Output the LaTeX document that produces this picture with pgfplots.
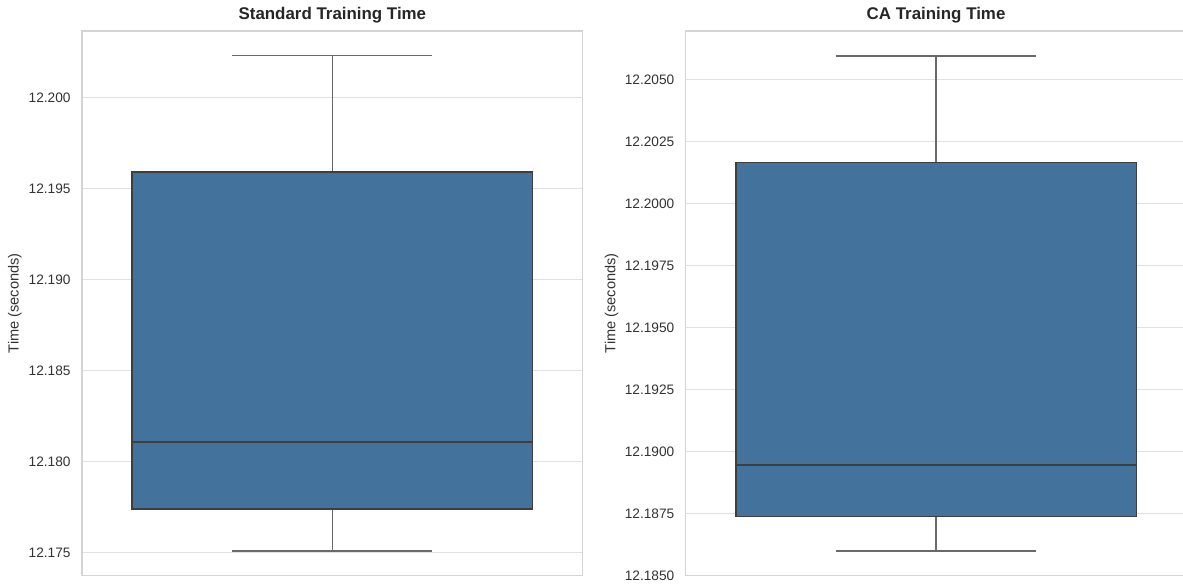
\documentclass[border=0pt]{standalone}
\usepackage{pgfplots}
\pgfplotsset{compat=1.18}
\usepgfplotslibrary{statistics}
\usepackage{fontspec}
\setmainfont{Liberation Sans}

\definecolor{boxblue}{RGB}{67,114,157}
\definecolor{edgegray}{RGB}{62,62,62}
\definecolor{whiskgray}{RGB}{105,105,105}
\definecolor{gridgray}{RGB}{225,225,225}
\definecolor{framegray}{RGB}{212,212,212}
\definecolor{ticktext}{RGB}{51,51,51}
\definecolor{titletext}{RGB}{38,38,38}

\pgfplotsset{
  panel/.style={
    scale only axis, width=250.35pt, height=272.25pt,
    anchor=south west,
    xmin=-0.5, xmax=0.5, xtick=\empty,
    ymajorgrids, grid style={gridgray, line width=0.6pt},
    axis line style={framegray, line width=0.6pt},
    major tick length=0pt,
    tick label style={font=\fontsize{6.85}{8}\selectfont, color=ticktext},
    yticklabel style={inner sep=0pt, xshift=-5.5pt},
    label style={font=\fontsize{7.3}{8.5}\selectfont, color=ticktext},
    every axis title shift=0pt,
    title style={font=\bfseries\fontsize{8.45}{10}\selectfont, color=titletext,
      at={(0.5,1)}, anchor=base, yshift=5.5pt},
    /pgf/number format/assume math mode=true,
    /pgf/number format/fixed, /pgf/number format/fixed zerofill,
    boxplot/draw direction=y,
    ylabel={Time (seconds)},
  },
  sbbox/.style={fill=boxblue, draw=edgegray, line width=0.8pt, solid, mark=none,
    boxplot/box extend=0.8, boxplot/whisker extend=0.4,
    boxplot/every whisker/.style={draw=whiskgray, line width=0.8pt},
    boxplot/every median/.style={draw=edgegray, line width=0.85pt}},
}

\begin{document}
\begin{tikzpicture}
% Standard run times
\begin{axis}[panel, at={(41pt,5.25pt)},
  title={Standard Training Time},
  ymin=12.17374, ymax=12.20366,
  ytick={12.175,12.180,12.185,12.190,12.195,12.200},
  /pgf/number format/precision=3,
  ylabel style={at={(axis description cs:-0.134,0.5)}, anchor=center}]
\addplot[sbbox, boxplot prepared={draw position=0,
  lower whisker=12.17509, lower quartile=12.17740, median=12.18107,
  upper quartile=12.19590, upper whisker=12.20231}] coordinates {};
\end{axis}
% CA run times
\begin{axis}[panel, at={(342.85pt,5.25pt)},
  title={CA Training Time},
  ymin=12.1850, ymax=12.20697,
  ytick={12.1850,12.1875,12.1900,12.1925,12.1950,12.1975,12.2000,12.2025,12.2050},
  /pgf/number format/precision=4,
  ylabel style={at={(axis description cs:-0.148,0.5)}, anchor=center}]
\addplot[sbbox, boxplot prepared={draw position=0,
  lower whisker=12.18598, lower quartile=12.18738, median=12.18945,
  upper quartile=12.20166, upper whisker=12.20597}] coordinates {};
\end{axis}
\pgfresetboundingbox
\path[use as bounding box] (0,0) rectangle (591.5pt,293pt);
\end{tikzpicture}
\end{document}
